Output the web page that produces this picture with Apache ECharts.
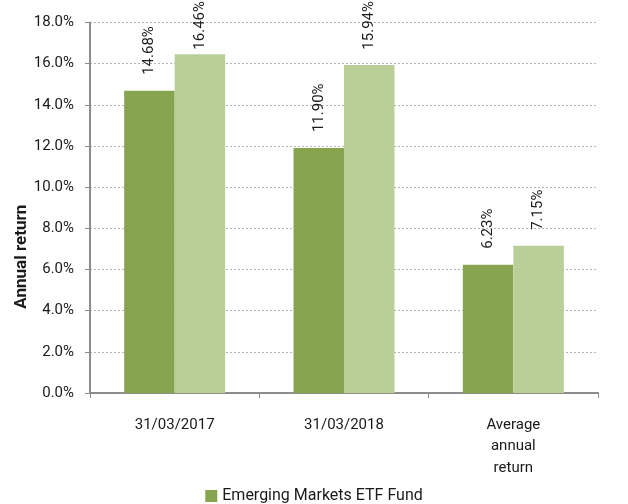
<!DOCTYPE html>
<html>
<head>
<meta charset="utf-8">
<script src="https://cdn.jsdelivr.net/npm/echarts@6/dist/echarts.min.js"></script>
<style>
  html, body { margin: 0; padding: 0; background: #fff; }
  #chart { width: 628px; height: 504px; }
</style>
</head>
<body>
<div id="chart"></div>
<script>
var categories = ['31/03/2017', '31/03/2018', 'Average\nannual\nreturn'];
var fundValues = [14.68, 11.90, 6.23];
var benchmarkValues = [16.46, 15.94, 7.15];
var yTicks = [0, 2, 4, 6, 8, 10, 12, 14, 16, 18];

var chart = echarts.init(document.getElementById('chart'));

var labelFont = '15px Roboto';
var labelDistance = 16;

function fmt(v) { return v.toFixed(2) + '%'; }

function makeLabel() {
    return {
        show: true,
        position: 'top',
        rotate: 90,
        align: 'left',
        verticalAlign: 'middle',
        distance: labelDistance,
        color: '#1a1a1a',
        fontFamily: 'Roboto',
        fontSize: 15,
        formatter: function (p) { return fmt(p.value); }
    };
}

var option = {
    animation: false,
    textStyle: { fontFamily: 'Roboto' },
    grid: { left: 90, right: 30, top: 22.5, bottom: 111 },
    legend: {
        data: ['Emerging Markets ETF Fund'],
        top: 483,
        left: 'center',
        icon: 'rect',
        itemWidth: 12,
        itemHeight: 12,
        itemGap: 6,
        textStyle: { fontSize: 16, color: '#1a1a1a', fontFamily: 'Roboto' }
    },
    xAxis: {
        type: 'category',
        data: categories,
        axisLine: { lineStyle: { color: '#8c8c8c', width: 2 } },
        axisTick: { show: true, length: 5, lineStyle: { color: '#8c8c8c' } },
        axisLabel: { color: '#1a1a1a', fontSize: 15, margin: 21, lineHeight: 21.5, interval: 0 }
    },
    yAxis: {
        type: 'value',
        min: yTicks[0],
        max: yTicks[yTicks.length - 1],
        interval: 2,
        name: 'Annual return',
        nameLocation: 'middle',
        nameGap: 60,
        nameMoveOverlap: false,
        // title sits lower than the middle of the axis in the original
        nameTextStyle: { fontWeight: 'bold', fontSize: 17, color: '#1a1a1a', padding: [0, 98, 0, 0] },
        axisLine: { show: true, lineStyle: { color: '#8c8c8c', width: 2 } },
        axisTick: { show: true, length: 5, lineStyle: { color: '#8c8c8c' } },
        axisLabel: {
            color: '#1a1a1a',
            fontSize: 15,
            margin: 16,
            formatter: function (v) { return v.toFixed(1) + '%'; }
        },
        splitLine: { lineStyle: { color: '#b4b4b4', type: [2, 2], width: 1 } }
    },
    series: [
        {
            name: 'Emerging Markets ETF Fund',
            type: 'bar',
            data: fundValues,
            barWidth: 50.5,
            barGap: '0%',
            itemStyle: { color: '#87a44f' },
            label: makeLabel()
        },
        {
            name: 'Benchmark',
            type: 'bar',
            data: benchmarkValues,
            barWidth: 50.5,
            barGap: '0%',
            itemStyle: { color: '#bacf97' },
            label: makeLabel()
        }
    ]
};

chart.setOption(option);

// keep labels inside the top of the chart, like the original does for 16.46%
var ctx = document.createElement('canvas').getContext('2d');
ctx.font = labelFont;
function fitData(values) {
    return values.map(function (v, i) {
        var top = chart.convertToPixel({ yAxisIndex: 0 }, v);
        var len = ctx.measureText(fmt(v)).width;
        var room = top - len - 1;
        if (room < labelDistance) {
            return { value: v, label: { distance: Math.max(room, 2) } };
        }
        return v;
    });
}
chart.setOption({
    series: [
        { data: fitData(fundValues) },
        { data: fitData(benchmarkValues) }
    ]
});
</script>
</body>
</html>
